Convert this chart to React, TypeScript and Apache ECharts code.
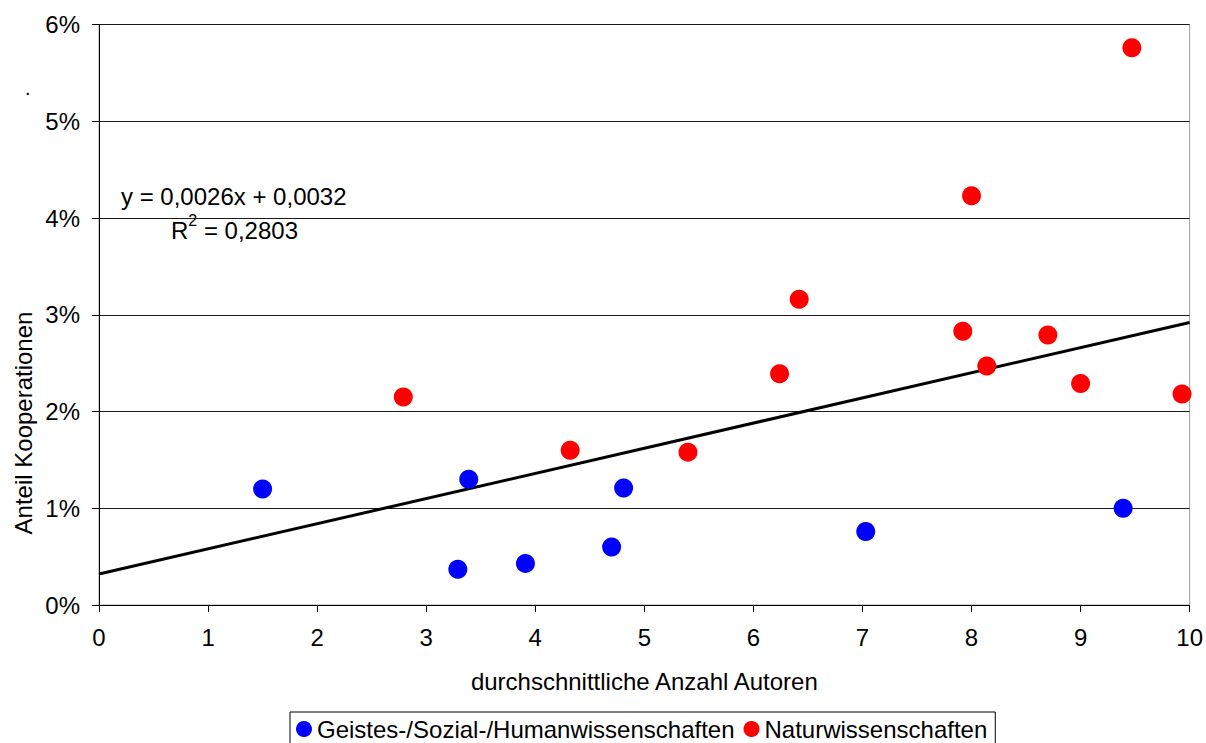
import React, { useEffect, useRef } from "react";
import * as echarts from "echarts";

// Durchschnittliche Autorenzahl (x) und Anteil Kooperationen (y, als Anteil)
const geistesX = [1.5, 3.39, 3.29, 3.91, 4.7, 4.81, 7.03, 9.39];
const geistesY = [0.012, 0.013, 0.0037, 0.0043, 0.006, 0.0121, 0.0076, 0.01];

const naturX = [2.79, 4.32, 5.4, 6.24, 6.42, 7.92, 8.0, 8.14, 8.7, 9.0, 9.47, 9.93];
const naturY = [0.0215, 0.016, 0.0158, 0.0239, 0.0316, 0.0283, 0.0423, 0.0247, 0.0279, 0.0229, 0.0576, 0.0218];

// Lineare Trendlinie: y = 0,0026x + 0,0032
const trendSlope = 0.0026;
const trendIntercept = 0.0032;
const trendRange = [0, 10];
const rSquared = "0,2803";

const xTicks = { min: 0, max: 10, interval: 1 };
const yTicks = { min: 0, max: 0.06, interval: 0.01 };

const seriesNames = ["Geistes-/Sozial-/Humanwissenschaften", "Naturwissenschaften"];

const FONT = "'Liberation Sans', Arial, sans-serif";
const FS = 24;

export default function App() {
  const ref = useRef<HTMLDivElement>(null);

  useEffect(() => {
    if (!ref.current) return;
    const chart = echarts.init(ref.current, null, { renderer: "svg" });
    const zip = (xs: number[], ys: number[]) => xs.map((x, i) => [x, ys[i]]);
    const trend = trendRange.map((x) => [x, trendSlope * x + trendIntercept]);

    chart.setOption({
      animation: false,
      backgroundColor: "#fff",
      textStyle: { fontFamily: FONT, color: "#000" },
      grid: {
        left: 99,
        right: 13,
        top: 24.5,
        bottom: 138,
        show: true,
        borderColor: "#a0a0a0",
        borderWidth: 1,
      },
      xAxis: {
        type: "value",
        min: xTicks.min,
        max: xTicks.max,
        interval: xTicks.interval,
        name: "durchschnittliche Anzahl Autoren",
        nameLocation: "middle",
        nameGap: 64,
        nameTextStyle: { fontSize: FS, color: "#000", fontFamily: FONT },
        axisLine: { show: true, lineStyle: { color: "#000", width: 1 } },
        axisTick: { show: true, length: 7, lineStyle: { color: "#000" } },
        axisLabel: { fontSize: FS, color: "#000", margin: 20, fontFamily: FONT },
        splitLine: { show: false },
      },
      yAxis: {
        type: "value",
        min: yTicks.min,
        max: yTicks.max,
        interval: yTicks.interval,
        axisLine: { show: true, lineStyle: { color: "#000", width: 1 } },
        axisTick: { show: true, length: 7, lineStyle: { color: "#000" } },
        axisLabel: {
          fontSize: FS,
          color: "#000",
          margin: 19,
          fontFamily: FONT,
          formatter: (v: number) => `${Math.round(v * 100)}%`,
        },
        splitLine: { show: true, lineStyle: { color: "#1a1a1a", width: 1 } },
      },
      legend: {
        data: seriesNames,
        left: 290,
        top: 712,
        orient: "horizontal",
        icon: "circle",
        itemWidth: 16,
        itemHeight: 16,
        itemGap: 9,
        padding: [5, 8, 10, 6],
        borderColor: "#000",
        borderWidth: 1,
        borderRadius: 0,
        textStyle: { fontSize: FS, color: "#000", fontFamily: FONT, padding: [0, 0, 0, 0] },
      },
      graphic: [
        {
          type: "text",
          left: 121,
          top: 184,
          style: { text: "y = 0,0026x + 0,0032", fontSize: FS, fill: "#000", fontFamily: FONT },
        },
        {
          type: "text",
          left: 171,
          top: 212,
          style: {
            text: `{b|R}{s|2}{b| = ${rSquared}}`,
            fill: "#000",
            fontFamily: FONT,
            rich: {
              b: { fontSize: FS, fontFamily: FONT, fill: "#000", verticalAlign: "bottom", lineHeight: 30 },
              s: { fontSize: 16, fontFamily: FONT, fill: "#000", verticalAlign: "top", lineHeight: 18, padding: [0, 0, 0, 0] },
            },
          },
        },
        {
          type: "text",
          left: 25,
          top: 78,
          style: { text: ".", fontSize: 20, fill: "#000", fontFamily: FONT },
        },
        {
          type: "text",
          x: 23,
          y: 423,
          rotation: Math.PI / 2,
          style: {
            text: "Anteil Kooperationen",
            fontSize: FS,
            fill: "#000",
            fontFamily: FONT,
            align: "center",
            verticalAlign: "middle",
          },
        },
      ],
      series: [
        {
          name: "Trend",
          type: "line",
          data: trend,
          showSymbol: false,
          symbol: "none",
          lineStyle: { color: "#000", width: 3 },
          z: 3,
          silent: true,
        },
        {
          name: seriesNames[0],
          type: "scatter",
          data: zip(geistesX, geistesY),
          symbol: "circle",
          symbolSize: 19,
          itemStyle: { color: "#0000ff", opacity: 1 },
          z: 4,
        },
        {
          name: seriesNames[1],
          type: "scatter",
          data: zip(naturX, naturY),
          symbol: "circle",
          symbolSize: 19,
          itemStyle: { color: "#ff0000", opacity: 1 },
          z: 4,
        },
      ],
    });

    return () => chart.dispose();
  }, []);

  return (
    <div
      ref={ref}
      style={{ position: "fixed", left: 0, top: 0, width: 1206, height: 743 }}
    />
  );
}
